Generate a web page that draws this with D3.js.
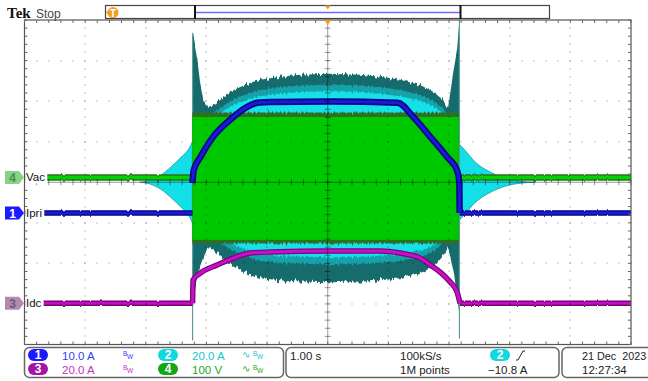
<!DOCTYPE html>
<html><head><meta charset="utf-8">
<script src="https://cdn.jsdelivr.net/npm/d3@7/dist/d3.min.js"></script>
<style>
body{margin:0;background:#fff}
svg{display:block;font-family:"Liberation Sans",Arial,sans-serif}
</style></head><body>
<svg id="scope" width="648" height="381"></svg>
<script>
// ---- acquisition settings ----
const timeDomain = [-5, 5];          // 1.00 s/div, 10 divisions, trigger at centre
const divDomain = [-4, 4];           // 8 vertical divisions
const chNames = ["Ipri", "", "Idc", "Vac"];
const chPerDiv = [10, 20, 20, 100];  // A, A, A, V per division
const chPosDiv = [-0.76, 0, -2.98, 0.12];

// ---- Vac (ch4): mains burst, 100 V/div ----
const vacBurstTime = [-2.232, 2.161];
const vacPeak = [149, -154];         // V, positive / negative crest
const vacNoise = [160, -163];        // V, crest noise band

// ---- Ipri (ch1): peak envelope, 10 A/div ----
const ipriTime = [-2.23, -2.21, -2.10, -1.89, -1.61, -1.33, -1.16, -0.95, 0.04, 1.15, 1.41, 1.69, 1.97, 2.13, 2.17, 2.175];
const ipriPeak = [7.4, 10.6, 13.8, 18.8, 23.0, 26.2, 27.2, 27.4, 27.5, 27.2, 23.7, 18.8, 13.8, 10.6, 7.4, 0];

// ---- Idc (ch3): 20 A/div ----
const idcTime = [-2.228, -2.222, -2.10, -1.825, -1.557, -1.277, -0.947, 0.04, 0.865, 1.194, 1.524, 1.689, 1.853, 2.018, 2.133, 2.18];
const idcValue = [0, 11.4, 14.8, 18.8, 22.2, 24.7, 25.2, 25.7, 25.7, 24.7, 22.2, 18.8, 15.3, 10.4, 5.4, 0];

// ---- ch2: 20 A/div, envelope of the switching current ----
const ch2TopTime = [-2.227, -2.20, -2.15, -2.10, -2.05, -1.985, -1.903, -1.771, -1.606, -1.442, -1.277, -1.112, -0.783, -0.453, 0.041, 0.535, 0.865, 1.194, 1.524, 1.738, 1.903, 1.985, 2.018, 2.068, 2.133, 2.158, 2.171];
const ch2TopValue = [73.7, 70.2, 60.4, 48.0, 40.6, 37.2, 37.7, 40.6, 44.6, 47.0, 49.0, 50.5, 52.0, 53.0, 53.5, 53.0, 52.0, 50.5, 48.0, 44.6, 40.6, 35.7, 44.1, 54.0, 65.3, 75.2, 79.1];
const ch2BotTime = [-2.227, -2.166, -2.10, -2.018, -1.952, -1.853, -1.738, -1.442, -1.112, -0.618, 0.041, 0.700, 1.194, 1.573, 1.771, 1.886, 1.969, 2.018, 2.084, 2.133, 2.171];
const ch2BotValue = [-58.1, -48.3, -40.9, -34.4, -31.5, -34.4, -37.4, -43.3, -47.3, -48.8, -49.3, -48.8, -47.3, -44.3, -40.9, -36.9, -32.5, -35.9, -45.8, -56.7, -65.1];
const ch2TopCore = [5, 21];          // index range of the top envelope without the edge spikes
const ch2BotCore = [4, 16];
const ch2Levels = [[0.9, 0.82, "#14a2aa"], [0.84, 0.75, "#12e0e8"]];   // persistence intensity levels
const ch2SpikeTime = [-2.229, 2.171];
const ch2SpikeMax = [73.7, 81];
const ch2SpikeMin = [-78, -77];
// idle ringing before / after the burst
const ch2RingLeftTime = [-3.10, -2.92, -2.75, -2.59, -2.42, -2.29, -2.232];
const ch2RingLeftAmp = [0, 1.0, 3.5, 7.4, 12.3, 16.5, 20];
const ch2RingRightTime = [2.161, 2.27, 2.43, 2.68, 2.92, 3.17, 3.42];
const ch2RingRightAmp = [19, 15.5, 10, 5, 2, 0.5, 0];

// ---- readouts ----
const chReadout = ["10.0 A", "20.0 A", "20.0 A", "100 V"];
const horizReadout = ["1.00 s", "100kS/s", "1M points"];
const trigReadout = ["2", "\u221210.8 A"];
const dateReadout = ["21 Dec  2023", "12:27:34"];

// ---- colours ----
const chColor = ["#1a1ad8", "#00d8e0", "#c810c8", "#00c800"];
const chDark = ["#08088a", "#176c6c", "#7a067a", "#2f6f20"];
const chText = ["#3a3aff", "#12c8d0", "#c430c4", "#22a822"];
const chBadge = ["#1b1bff", "#12d8e0", "#a414a4", "#12a812"];

const plot = {left: 24.5, right: 631, top: 20, bottom: 344.5};
const x = d3.scaleLinear().domain(timeDomain).range([plot.left, plot.right]);
const ydiv = d3.scaleLinear().domain(divDomain).range([plot.bottom, plot.top]);
const yCh = ch => v => ydiv(v / chPerDiv[ch] + chPosDiv[ch]);
const y1 = yCh(0), y2 = yCh(1), y3 = yCh(2), y4 = yCh(3);

const svg = d3.select("#scope");
const defs = svg.append("defs");

// vertical jitter used for noisy trace edges
function ragFilter(id, freq, scale, seed) {
  const f = defs.append("filter").attr("id", id).attr("filterUnits", "userSpaceOnUse")
    .attr("x", 0).attr("y", 0).attr("width", 648).attr("height", 381);
  f.append("feTurbulence").attr("type", "fractalNoise")
    .attr("baseFrequency", `${freq} 0.0005`).attr("numOctaves", 2).attr("seed", seed).attr("result", "n");
  f.append("feColorMatrix").attr("in", "n").attr("type", "matrix")
    .attr("values", "0 0 0 0 0.5  0 1 0 0 0  0 0 0 0 0  0 0 0 0 1").attr("result", "m");
  f.append("feDisplacementMap").attr("in", "SourceGraphic").attr("in2", "m")
    .attr("scale", scale).attr("xChannelSelector", "R").attr("yChannelSelector", "G");
}
ragFilter("ragBig", 0.4, 10, 3);
ragFilter("ragMid", 0.5, 6, 7);
ragFilter("ragSmall", 0.3, 2.5, 11);

defs.append("clipPath").attr("id", "plotClip").append("rect")
  .attr("x", plot.left).attr("y", plot.top)
  .attr("width", plot.right - plot.left).attr("height", plot.bottom - plot.top);

svg.append("rect").attr("width", 648).attr("height", 381).attr("fill", "#fff");

const traces = svg.append("g").attr("clip-path", "url(#plotClip)");

// ---- ch2 ----
const ring = (times, amps) => d3.area().curve(d3.curveMonotoneX)
  .x((d, i) => x(times[i])).y0((d, i) => y2(-amps[i])).y1((d, i) => y2(amps[i]))(amps);
traces.append("path").attr("d", ring(ch2RingLeftTime, ch2RingLeftAmp))
  .attr("fill", "#12dfe6").attr("stroke", "#1c9aa0").attr("stroke-width", 0.8);
traces.append("path").attr("d", ring(ch2RingRightTime, ch2RingRightAmp))
  .attr("fill", "#12dfe6").attr("stroke", "#1c9aa0").attr("stroke-width", 0.8);

const envPath = (ti, vi, tb, vb, kt, kb) => {
  const top = ti.map((t, i) => [x(t), y2(vi[i] * kt)]);
  const bot = tb.map((t, i) => [x(t), y2(vb[i] * kb)]).reverse();
  return d3.line().curve(d3.curveLinear)(top.concat(bot)) + "Z";
};
traces.append("path").attr("d", envPath(ch2TopTime, ch2TopValue, ch2BotTime, ch2BotValue, 1, 1))
  .attr("fill", chDark[1]).attr("filter", "url(#ragBig)");
const tc = ch2TopCore, bc = ch2BotCore;
ch2Levels.forEach(([kt, kb, col]) => {
  traces.append("path").attr("d", envPath(
      ch2TopTime.slice(tc[0], tc[1] + 1), ch2TopValue.slice(tc[0], tc[1] + 1),
      ch2BotTime.slice(bc[0], bc[1] + 1), ch2BotValue.slice(bc[0], bc[1] + 1), kt, kb))
    .attr("fill", col).attr("filter", "url(#ragMid)");
});
ch2SpikeTime.forEach((t, i) => {
  traces.append("line").attr("x1", x(t)).attr("x2", x(t))
    .attr("y1", y2(ch2SpikeMax[i])).attr("y2", y2(ch2SpikeMin[i]))
    .attr("stroke", "#5f9a9c").attr("stroke-width", 1.2);
});

// ---- Vac (ch4) ----
const [vt0, vt1] = vacBurstTime;
traces.append("rect").attr("x", x(vt0)).attr("width", x(vt1) - x(vt0))
  .attr("y", y4(vacNoise[0])).attr("height", y4(vacNoise[1]) - y4(vacNoise[0]))
  .attr("fill", chDark[3]).attr("filter", "url(#ragMid)");
traces.append("rect").attr("x", x(vt0)).attr("width", x(vt1) - x(vt0))
  .attr("y", y4(vacPeak[0])).attr("height", y4(vacPeak[1]) - y4(vacPeak[0]))
  .attr("fill", chColor[3]);
const flat = (a, b, yv, dark, bright, wd, wb) => {
  const seg = traces.append("g").attr("filter", "url(#ragSmall)");
  seg.append("line").attr("x1", x(a)).attr("x2", x(b)).attr("y1", yv).attr("y2", yv)
    .attr("stroke", dark).attr("stroke-width", wd);
  seg.append("line").attr("x1", x(a)).attr("x2", x(b)).attr("y1", yv).attr("y2", yv)
    .attr("stroke", bright).attr("stroke-width", wb);
};
flat(timeDomain[0], vt0, y4(0), chDark[3], "#00d400", 6.5, 3.5);
flat(vt1, timeDomain[1], y4(0), chDark[3], "#00d400", 6.5, 3.5);

// ---- Ipri (ch1) ----
flat(timeDomain[0], ipriTime[0], y1(0), chDark[0], chColor[0], 5.5, 2.5);
flat(ipriTime[ipriTime.length - 1], timeDomain[1], y1(0), chDark[0], chColor[0], 5.5, 2.5);
const ipriLine = d3.line().curve(d3.curveMonotoneX)
  .x((d, i) => x(ipriTime[i])).y(d => y1(d));
traces.append("path").attr("d", ipriLine(ipriPeak)).attr("fill", "none")
  .attr("stroke", chDark[0]).attr("stroke-width", 6.5).attr("stroke-linejoin", "round");
traces.append("path").attr("d", ipriLine(ipriPeak)).attr("fill", "none")
  .attr("stroke", chColor[0]).attr("stroke-width", 3).attr("stroke-linejoin", "round");

// ---- Idc (ch3) ----
flat(timeDomain[0], idcTime[0], y3(0), chDark[2], chColor[2], 5.5, 2.5);
flat(idcTime[idcTime.length - 1], timeDomain[1], y3(0), chDark[2], chColor[2], 5.5, 2.5);
const idcLine = d3.line().curve(d3.curveMonotoneX)
  .x((d, i) => x(idcTime[i])).y(d => y3(d));
traces.append("path").attr("d", idcLine(idcValue)).attr("fill", "none")
  .attr("stroke", chDark[2]).attr("stroke-width", 5.5);
traces.append("path").attr("d", idcLine(idcValue)).attr("fill", "none")
  .attr("stroke", chColor[2]).attr("stroke-width", 3);

// ---- graticule ----
const grid = svg.append("g");
const majorX = d3.range(timeDomain[0], timeDomain[1] + 0.001, 1);
const majorY = d3.range(divDomain[0], divDomain[1] + 0.001, 1);
const minorX = d3.range(timeDomain[0], timeDomain[1] + 0.001, 0.2);
const minorY = d3.range(divDomain[0], divDomain[1] + 0.001, 0.2);
const dotFill = "rgba(0,0,0,0.45)";
majorX.slice(1, -1).forEach(t => {
  if (t === 0) return;
  minorY.forEach(d => grid.append("rect").attr("x", Math.round(x(t)) - 0.5).attr("y", Math.round(ydiv(d)) - 0.5)
    .attr("width", 1).attr("height", 1).attr("fill", dotFill));
});
majorY.slice(1, -1).forEach(d => {
  if (d === 0) return;
  minorX.forEach(t => grid.append("rect").attr("x", Math.round(x(t)) - 0.5).attr("y", Math.round(ydiv(d)) - 0.5)
    .attr("width", 1).attr("height", 1).attr("fill", dotFill));
});
// centre cross with minor ticks
grid.append("line").attr("x1", plot.left).attr("x2", plot.right).attr("y1", ydiv(0)).attr("y2", ydiv(0))
  .attr("stroke", "rgba(0,0,0,0.4)").attr("stroke-width", 1);
grid.append("line").attr("x1", x(0)).attr("x2", x(0)).attr("y1", plot.top).attr("y2", plot.bottom)
  .attr("stroke", "rgba(0,0,0,0.4)").attr("stroke-width", 1);
minorX.forEach(t => grid.append("line").attr("x1", x(t)).attr("x2", x(t))
  .attr("y1", ydiv(0) - 3).attr("y2", ydiv(0) + 3).attr("stroke", "rgba(0,0,0,0.4)"));
minorY.forEach(d => grid.append("line").attr("x1", x(0) - 3).attr("x2", x(0) + 3)
  .attr("y1", ydiv(d)).attr("y2", ydiv(d)).attr("stroke", "rgba(0,0,0,0.4)"));
// border with inward ticks
grid.append("rect").attr("x", plot.left).attr("y", plot.top)
  .attr("width", plot.right - plot.left).attr("height", plot.bottom - plot.top)
  .attr("fill", "none").attr("stroke", "#555").attr("stroke-width", 1.2);
minorX.forEach(t => {
  grid.append("line").attr("x1", x(t)).attr("x2", x(t)).attr("y1", plot.top).attr("y2", plot.top + 3).attr("stroke", "#666");
  grid.append("line").attr("x1", x(t)).attr("x2", x(t)).attr("y1", plot.bottom - 3).attr("y2", plot.bottom).attr("stroke", "#666");
});
minorY.forEach(d => {
  grid.append("line").attr("x1", plot.left).attr("x2", plot.left + 3).attr("y1", ydiv(d)).attr("y2", ydiv(d)).attr("stroke", "#666");
  grid.append("line").attr("x1", plot.right - 3).attr("x2", plot.right).attr("y1", ydiv(d)).attr("y2", ydiv(d)).attr("stroke", "#666");
});

// ---- channel ground markers and trace labels ----
const markers = [
  {ch: 3, y: y4(0), fill: "#86d286", num: "#4f8a4f"},
  {ch: 0, y: y1(0), fill: "#1b1bff", num: "#ffffff"},
  {ch: 2, y: y3(0), fill: "#b18ab1", num: "#6d5a6d"}
];
markers.forEach(m => {
  const g = svg.append("g");
  const bg = g.append("rect").attr("fill", "#fff");
  const label = g.append("text").attr("x", 26).attr("y", m.y + 4).attr("font-size", 11.5).attr("fill", "#111")
    .text(chNames[m.ch]);
  const w = label.node().getComputedTextLength();
  bg.attr("x", plot.left + 0.8).attr("y", m.y - 6).attr("width", w + 3).attr("height", 12);
  g.append("path").attr("d", `M5,${m.y - 6.5}H19L24,${m.y}L19,${m.y + 6.5}H5Z`).attr("fill", m.fill);
  g.append("text").attr("x", 12.5).attr("y", m.y + 4.5).attr("text-anchor", "middle")
    .attr("font-size", 12).attr("font-weight", "bold").attr("fill", m.num).text(m.ch + 1);
});

// ---- header ----
svg.append("text").attr("x", 7).attr("y", 18).attr("font-family", "'Liberation Serif',serif")
  .attr("font-weight", "bold").attr("font-size", 15).attr("fill", "#111").text("Tek");
svg.append("text").attr("x", 36).attr("y", 18).attr("font-size", 12).attr("fill", "#444").text("Stop");
// record view with zoom window
svg.append("rect").attr("x", 105.5).attr("y", 5.5).attr("width", 444).attr("height", 13)
  .attr("fill", "#fff").attr("stroke", "#444").attr("stroke-width", 1.2);
svg.append("line").attr("x1", 196).attr("x2", 460).attr("y1", 12.5).attr("y2", 12.5)
  .attr("stroke", "#6b6bff").attr("stroke-width", 1.5);
[195, 460.5].forEach(px => svg.append("line").attr("x1", px).attr("x2", px).attr("y1", 5).attr("y2", 19)
  .attr("stroke", "#111").attr("stroke-width", 2));
svg.append("path").attr("d", "M106,12.5L110,8.5V16.5Z").attr("fill", "#f0a020");
svg.append("circle").attr("cx", 113).attr("cy", 12.5).attr("r", 5.5).attr("fill", "#f0a020");
svg.append("text").attr("x", 113).attr("y", 16.5).attr("text-anchor", "middle").attr("font-size", 10)
  .attr("font-weight", "bold").attr("fill", "#fff").text("T");
svg.append("path").attr("d", `M${x(0) - 3.5},${plot.top}H${x(0) + 3.5}L${x(0)},${plot.top + 5}Z`).attr("fill", "#f0a020");
svg.append("path").attr("d", `M${x(0) - 3},5.5H${x(0) + 3}L${x(0)},9.5Z`).attr("fill", "#f0a020");

// ---- readout panel ----
const panel = svg.append("g");
panel.append("rect").attr("x", 24.5).attr("y", 347.5).attr("width", 259).attr("height", 30).attr("rx", 5)
  .attr("fill", "#fff").attr("stroke", "#666").attr("stroke-width", 1.5);
panel.append("rect").attr("x", 286).attr("y", 347.5).attr("width", 273).attr("height", 30).attr("rx", 5)
  .attr("fill", "#fff").attr("stroke", "#666").attr("stroke-width", 1.5);
panel.append("rect").attr("x", 562).attr("y", 347.5).attr("width", 100).attr("height", 30).attr("rx", 5)
  .attr("fill", "#fff").attr("stroke", "#666").attr("stroke-width", 1.5);

const rowY = [360, 374];
const chSlots = [{ch: 0, col: 0, row: 0}, {ch: 1, col: 1, row: 0}, {ch: 2, col: 0, row: 1}, {ch: 3, col: 1, row: 1}];
chSlots.forEach(s => {
  const bx = s.col === 0 ? 28 : 158;
  const by = rowY[s.row];
  panel.append("rect").attr("x", bx).attr("y", by - 11).attr("width", 20).attr("height", 12).attr("rx", 6)
    .attr("fill", chBadge[s.ch]);
  panel.append("text").attr("x", bx + 10).attr("y", by - 1).attr("text-anchor", "middle")
    .attr("font-size", 12).attr("font-weight", "bold").attr("fill", "#fff").text(s.ch + 1);
  panel.append("text").attr("x", bx + 34).attr("y", by).attr("font-size", 11.5)
    .attr("fill", chText[s.ch]).text(chReadout[s.ch]);
  const bwx = bx + 95;
  if (s.col === 1) {
    panel.append("text").attr("x", bwx - 11).attr("y", by - 2).attr("font-size", 10)
      .attr("fill", chText[s.ch]).text("\u223F");
  }
  panel.append("text").attr("x", bwx).attr("y", by - 4).attr("font-size", 6.5).attr("fill", chText[s.ch]).text("B");
  panel.append("text").attr("x", bwx + 4).attr("y", by - 1).attr("font-size", 6.5).attr("fill", chText[s.ch]).text("W");
});

panel.append("text").attr("x", 290).attr("y", rowY[0]).attr("font-size", 11.5).attr("fill", "#222").text(horizReadout[0]);
panel.append("text").attr("x", 400).attr("y", rowY[0]).attr("font-size", 11.5).attr("fill", "#222").text(horizReadout[1]);
panel.append("text").attr("x", 400).attr("y", rowY[1]).attr("font-size", 11.5).attr("fill", "#222").text(horizReadout[2]);
panel.append("rect").attr("x", 490).attr("y", rowY[0] - 11).attr("width", 20).attr("height", 12).attr("rx", 6)
  .attr("fill", chBadge[1]);
panel.append("text").attr("x", 500).attr("y", rowY[0] - 1).attr("text-anchor", "middle").attr("font-size", 12)
  .attr("font-weight", "bold").attr("fill", "#fff").text(trigReadout[0]);
panel.append("path").attr("d", `M516,${rowY[0]}H518L523,${rowY[0] - 9}H525`).attr("fill", "none")
  .attr("stroke", "#222").attr("stroke-width", 1);
panel.append("text").attr("x", 488).attr("y", rowY[1]).attr("font-size", 11.5).attr("fill", "#222").text(trigReadout[1]);
panel.append("text").attr("x", 582).attr("y", rowY[0]).attr("font-size", 10.8).attr("fill", "#222")
  .style("white-space", "pre").text(dateReadout[0]);
panel.append("text").attr("x", 582).attr("y", rowY[1]).attr("font-size", 11.5).attr("fill", "#222").text(dateReadout[1]);
</script>
</body></html>
